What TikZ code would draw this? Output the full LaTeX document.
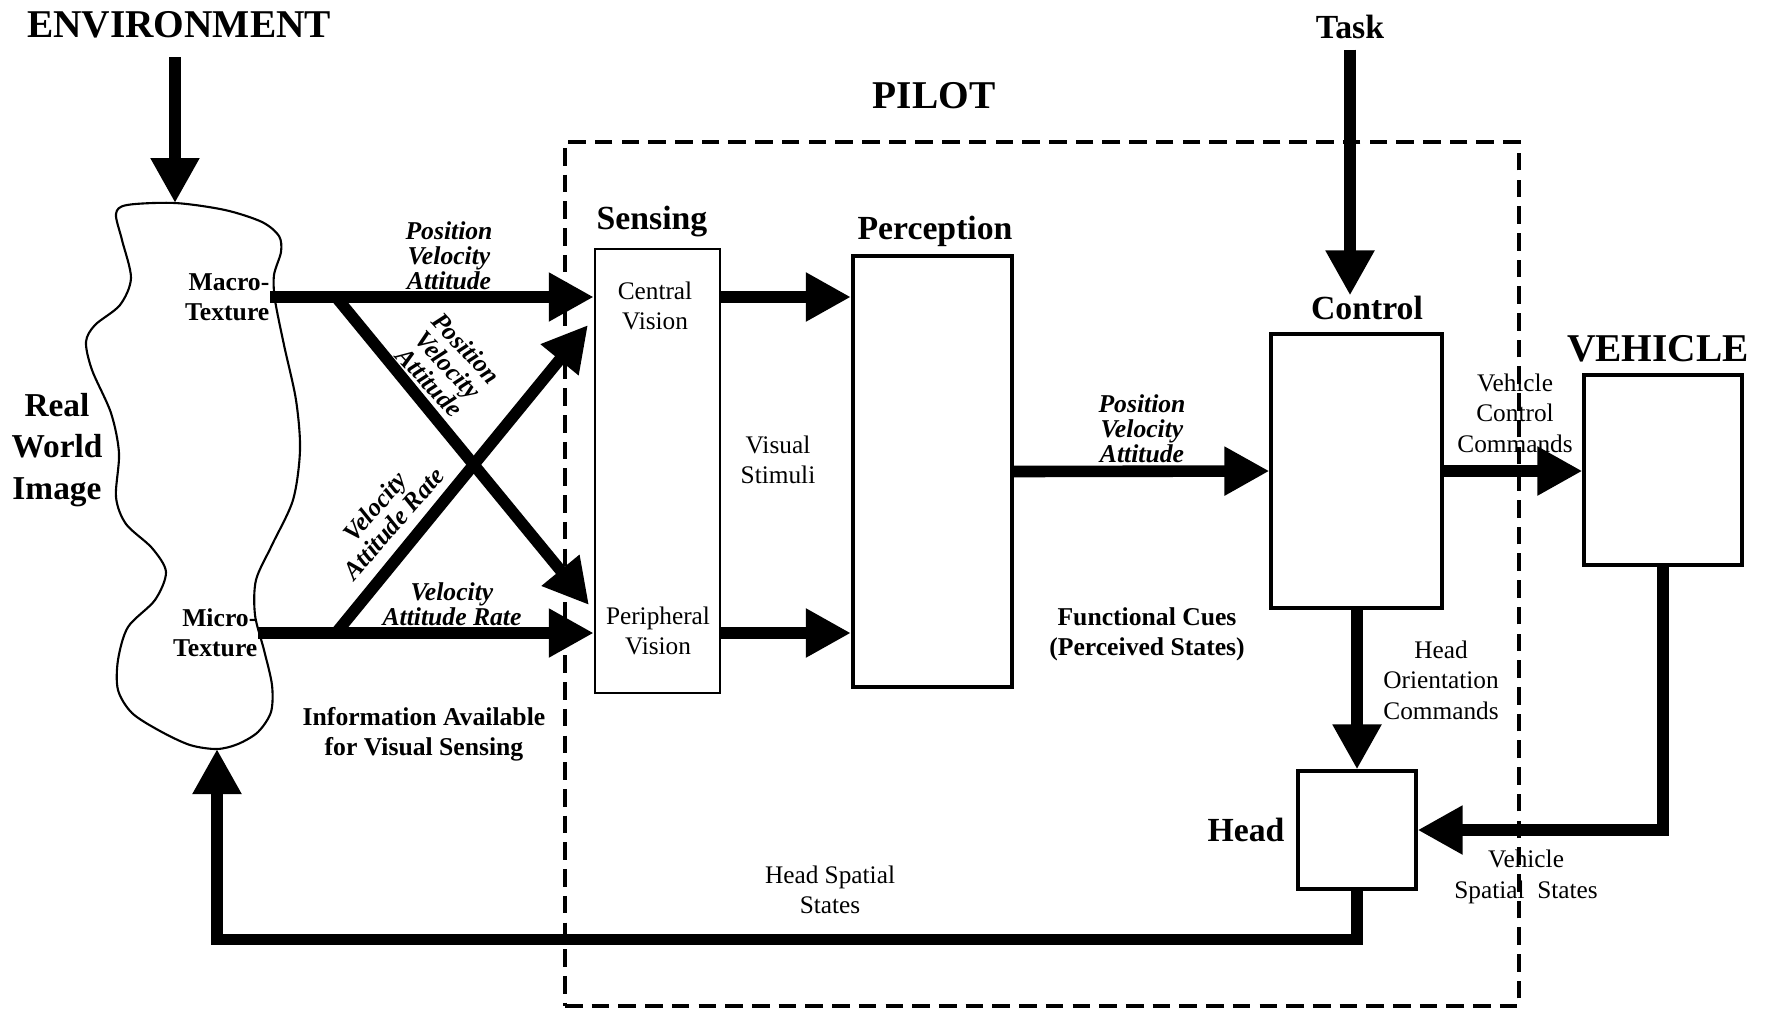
\documentclass[tikz,border=0pt]{standalone}
\usepackage{fontspec}
\setmainfont{Liberation Serif}
\usetikzlibrary{arrows.meta}
\tikzset{% 
    box/.style={draw, line width=0.9pt, inner sep=0pt},
    fat/.style={line width=3.3pt, -{Triangle[length=0.45cm,width=0.46cm]}},
    pilotbox/.style={draw, line width=1.1pt, dash pattern=on 5pt off 2.6pt, inner sep=0pt},
    lbl/.style={inner sep=0pt, align=center, font=\fontsize{7.2}{8.7}\selectfont},
    cue/.style={inner sep=0pt, align=center, font=\fontsize{7.3}{7.1}\selectfont\bfseries\itshape},
    blbl/.style={inner sep=0pt, align=center, font=\fontsize{7.3}{8.6}\selectfont\bfseries},
    hdr/.style={inner sep=0pt, font=\fontsize{9.6}{11}\selectfont\bfseries},
    ttl/.style={inner sep=0pt, font=\fontsize{11.2}{13}\selectfont\bfseries}
}

\begin{document}
\begin{tikzpicture}
        \useasboundingbox (0,0) rectangle (17.73,-10.10);
        % titles
        \node[ttl] (env) at (1.79,-0.25) {ENVIRONMENT};
        \node[ttl] (pilot) at (9.34,-0.96) {PILOT};
        \node[ttl] (vehlbl) at (16.58,-3.49) {VEHICLE};
        \node[hdr] (task) at (13.50,-0.27) {Task};
        \node[pilotbox, minimum width=9.54cm, minimum height=8.64cm] (pilotbx) at (10.42,-5.74) {};
        % real world image
        \draw[line width=0.6pt] plot[smooth cycle] coordinates {(1.75,-2.03) (2.25,-2.10) (2.62,-2.22) (2.79,-2.36) (2.81,-2.52) (2.74,-2.75) (2.75,-3.00) (2.84,-3.45) (2.96,-4.00) (3.00,-4.50) (2.93,-5.00) (2.72,-5.45) (2.56,-5.80) (2.55,-6.15) (2.64,-6.50) (2.72,-6.85) (2.71,-7.12) (2.58,-7.32) (2.38,-7.44) (2.17,-7.49) (1.90,-7.45) (1.60,-7.31) (1.32,-7.13) (1.18,-6.90) (1.18,-6.60) (1.28,-6.27) (1.55,-6.00) (1.66,-5.72) (1.52,-5.48) (1.26,-5.24) (1.16,-4.97) (1.19,-4.53) (1.11,-4.13) (0.92,-3.70) (0.86,-3.42) (0.95,-3.25) (1.20,-3.05) (1.31,-2.78) (1.22,-2.40) (1.16,-2.14) (1.27,-2.05)};
        \coordinate (blobtop) at (1.75,-2.03);
        \coordinate (blobbot) at (2.17,-7.49);
        \coordinate (envfoot) at (1.75,-0.57);
        \node[inner sep=0pt, align=center, font=\fontsize{9.5}{11.7}\selectfont\bfseries] (rwi) at (0.57,-4.50) {Real\\World\\Image};
        \node[blbl, align=right, anchor=east] (macro) at (2.70,-2.97) {Macro-\\Texture};
        \node[blbl, align=right, anchor=east] (micro) at (2.58,-6.33) {Micro-\\Texture};
        % pilot blocks
        \node[box, line width=0.7pt, minimum width=1.25cm, minimum height=4.44cm] (sens) at (6.575,-4.71) {};
        \node[box, line width=1.2pt, minimum width=1.59cm, minimum height=4.31cm] (perc) at (9.325,-4.715) {};
        \node[box, minimum width=1.71cm, minimum height=2.74cm] (ctrl) at (13.565,-4.71) {};
        \node[box, minimum width=1.18cm, minimum height=1.18cm] (head) at (13.57,-8.30) {};
        \node[box, minimum width=1.58cm, minimum height=1.90cm] (veh) at (16.63,-4.70) {};
        \node[hdr] (senslbl) at (6.52,-2.22) {Sensing};
        \node[hdr] (perclbl) at (9.35,-2.31) {Perception};
        \node[hdr] (ctrllbl) at (13.67,-3.08) {Control};
        \node[hdr] (headlbl) at (12.46,-8.30) {Head};
        \node[lbl] (central) at (6.55,-3.06) {Central\\Vision};
        \node[lbl] (periph) at (6.58,-6.31) {Peripheral\\Vision};
        \node[lbl] (stimuli) at (7.78,-4.60) {Visual\\Stimuli};
        % cues
        \node[cue] (cuetop) at (4.49,-2.56) {Position\\Velocity\\Attitude};
        \node[cue, rotate=-47] (cuedown) at (4.48,-3.65) {Position\\Velocity\\Attitude};
        \node[cue, rotate=49] (cueup) at (3.84,-5.15) {Velocity\\Attitude Rate};
        \node[cue] (cuebot) at (4.52,-6.04) {Velocity\\Attitude Rate};
        \node[cue] (cuemid) at (11.42,-4.29) {Position\\Velocity\\Attitude};
        \node[blbl] (info) at (4.24,-7.34) {Information Available\\for Visual Sensing};
        \node[blbl] (funct) at (11.47,-6.34) {Functional Cues\\(Perceived States)};
        \node[lbl] (vcc) at (15.15,-4.13) {Vehicle\\Control\\Commands};
        \node[lbl] (hoc) at (14.41,-6.80) {Head\\Orientation\\Commands};
        \node[lbl] (vss) at (15.26,-8.77) {Vehicle\\Spatial\ \ States};
        \node[lbl] (hss) at (8.30,-8.90) {Head Spatial\\States};
        % connectors
        \coordinate (xa) at (3.36,-2.97);
        \coordinate (xb) at (3.36,-6.33);
        \coordinate (xaend) at (5.89,-6.05);
        \coordinate (xbend) at (5.88,-3.25);
        \draw[fat] (envfoot) -- (blobtop);
        \draw[fat] ([yshift=-0.1cm]task.south) -- (task |- ctrllbl.north);
        \draw[fat] (macro.east) -- (macro.east -| sens.west);
        \draw[fat] (micro.east) -- (micro.east -| sens.west);
        \draw[fat] (xa) -- (xaend);
        \draw[fat] (xb) -- (xbend);
        \draw[fat] (sens.east |- macro.east) -- (perc.west |- macro.east);
        \draw[fat] (sens.east |- micro.east) -- (perc.west |- micro.east);
        \draw[fat] (perc.east) -- (ctrl.west);
        \draw[fat] (ctrl.east) -- (ctrl.east -| veh.west);
        \draw[fat] (head.north |- ctrl.south) -- (head.north);
        \draw[fat] (veh.south) |- (head.east);
        \draw[fat] (head.south) -- ++(0,-0.49) -| (blobbot);
\end{tikzpicture}
\end{document}
